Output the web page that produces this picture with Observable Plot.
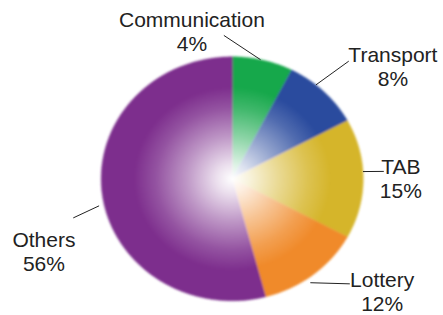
<!DOCTYPE html>
<html>
<head>
<meta charset="utf-8">
<script src="https://cdn.jsdelivr.net/npm/d3@7"></script>
<script src="https://cdn.jsdelivr.net/npm/@observablehq/plot@0.6"></script>
<style>
  html, body { margin: 0; padding: 0; background: #fff; }
  #chart { width: 443px; height: 315px; }
</style>
</head>
<body>
<div id="chart"></div>
<script>
// ---- data ----
const categories = ["Communication", "Transport", "TAB", "Lottery", "Others"];
const pctLabels  = ["4%", "8%", "15%", "12%", "56%"];
// slice sizes as drawn in the picture (share of the full circle, %)
const shares     = [7.5, 9.6, 15.8, 13.0, 54.1];
const colors     = ["#19a84b", "#2c4c9e", "#d5b52c", "#f08a2c", "#7d2e8d"];

// ---- label layout (angle in degrees clockwise from 12 o'clock, radius in pie radii) ----
const leaderRim = [[12.5, 1.0], [39.7, 1.0], [86.6, 1.0], [145, 1.04], [257.7, 1.04]];
const leaderEnd = [[-3.1, 1.177], [42.7, 1.312], [87, 1.159], [133.8, 1.244], [255.2, 1.255]];
const labelAt   = [[-12.5, 1.42], [48.1, 1.648], [81.9, 1.30], [123, 1.365], [253.9, 1.496]];

const rad = Math.PI / 180;
const polar = ([a, r]) => ({x: r * Math.sin(a * rad), y: r * Math.cos(a * rad)});

// slices via d3.pie (clockwise from top)
const arcs = d3.pie().sort(null).value(d => d)(shares);
const slicePts = [];
arcs.forEach((a, i) => {
  const a0 = a.startAngle / rad, a1 = a.endAngle / rad;
  slicePts.push({k: categories[i], c: colors[i], x: 0, y: 0});
  const n = Math.max(2, Math.ceil(a1 - a0));
  for (let j = 0; j <= n; j++) {
    const p = polar([a0 + (a1 - a0) * j / n, 1]);
    slicePts.push({k: categories[i], c: colors[i], ...p});
  }
});
const rimPts = d3.range(0, 361, 2).map(a => polar([a, 1]));

const leaders = categories.map((k, i) => {
  const p = polar(leaderRim[i]), q = polar(leaderEnd[i]);
  return {k, x1: p.x, y1: p.y, x2: q.x, y2: q.y};
});
const labels = categories.map((k, i) => ({...polar(labelAt[i]), text: k + "\n" + pctLabels[i]}));

const svg = Plot.plot({
  width: 443, height: 315, margin: 0,
  x: {domain: [-1.7687, 1.6130], axis: null},
  y: {domain: [-1.1205, 1.4615], axis: null},
  color: {type: "identity"},
  style: {fontFamily: "'Liberation Sans', Arial, sans-serif", background: "#fff"},
  marks: [
    Plot.line(slicePts, {x: "x", y: "y", z: "k", fill: "c", stroke: "c", strokeWidth: 0.5, curve: "linear-closed"}),
    Plot.line(rimPts, {x: "x", y: "y", fill: "url(#pieGlow)", stroke: "none", curve: "linear-closed"}),
    Plot.link(leaders, {x1: "x1", y1: "y1", x2: "x2", y2: "y2", stroke: "#222", strokeWidth: 1}),
    Plot.text(labels, {x: "x", y: "y", text: "text", textAnchor: "middle", lineAnchor: "top",
      lineHeight: 1.16, fontSize: 21, fill: "#222"})
  ]
});

// gradient + soft edge definitions
const ns = "http://www.w3.org/2000/svg";
const defs = document.createElementNS(ns, "defs");
defs.innerHTML = `
  <radialGradient id="pieGlow" cx="0.5" cy="0.5" r="0.5">
    <stop offset="0" stop-color="#fff" stop-opacity="1"/>
    <stop offset="0.12" stop-color="#fff" stop-opacity="0.85"/>
    <stop offset="0.35" stop-color="#fff" stop-opacity="0.5"/>
    <stop offset="0.58" stop-color="#fff" stop-opacity="0.18"/>
    <stop offset="0.75" stop-color="#fff" stop-opacity="0"/>
  </radialGradient>
  <filter id="soft" x="-10%" y="-10%" width="120%" height="120%">
    <feGaussianBlur stdDeviation="1.2"/>
  </filter>`;
svg.insertBefore(defs, svg.firstChild);
svg.querySelectorAll('g[aria-label="line"]').forEach(g => g.setAttribute("filter", "url(#soft)"));

document.getElementById("chart").appendChild(svg);
</script>
</body>
</html>
